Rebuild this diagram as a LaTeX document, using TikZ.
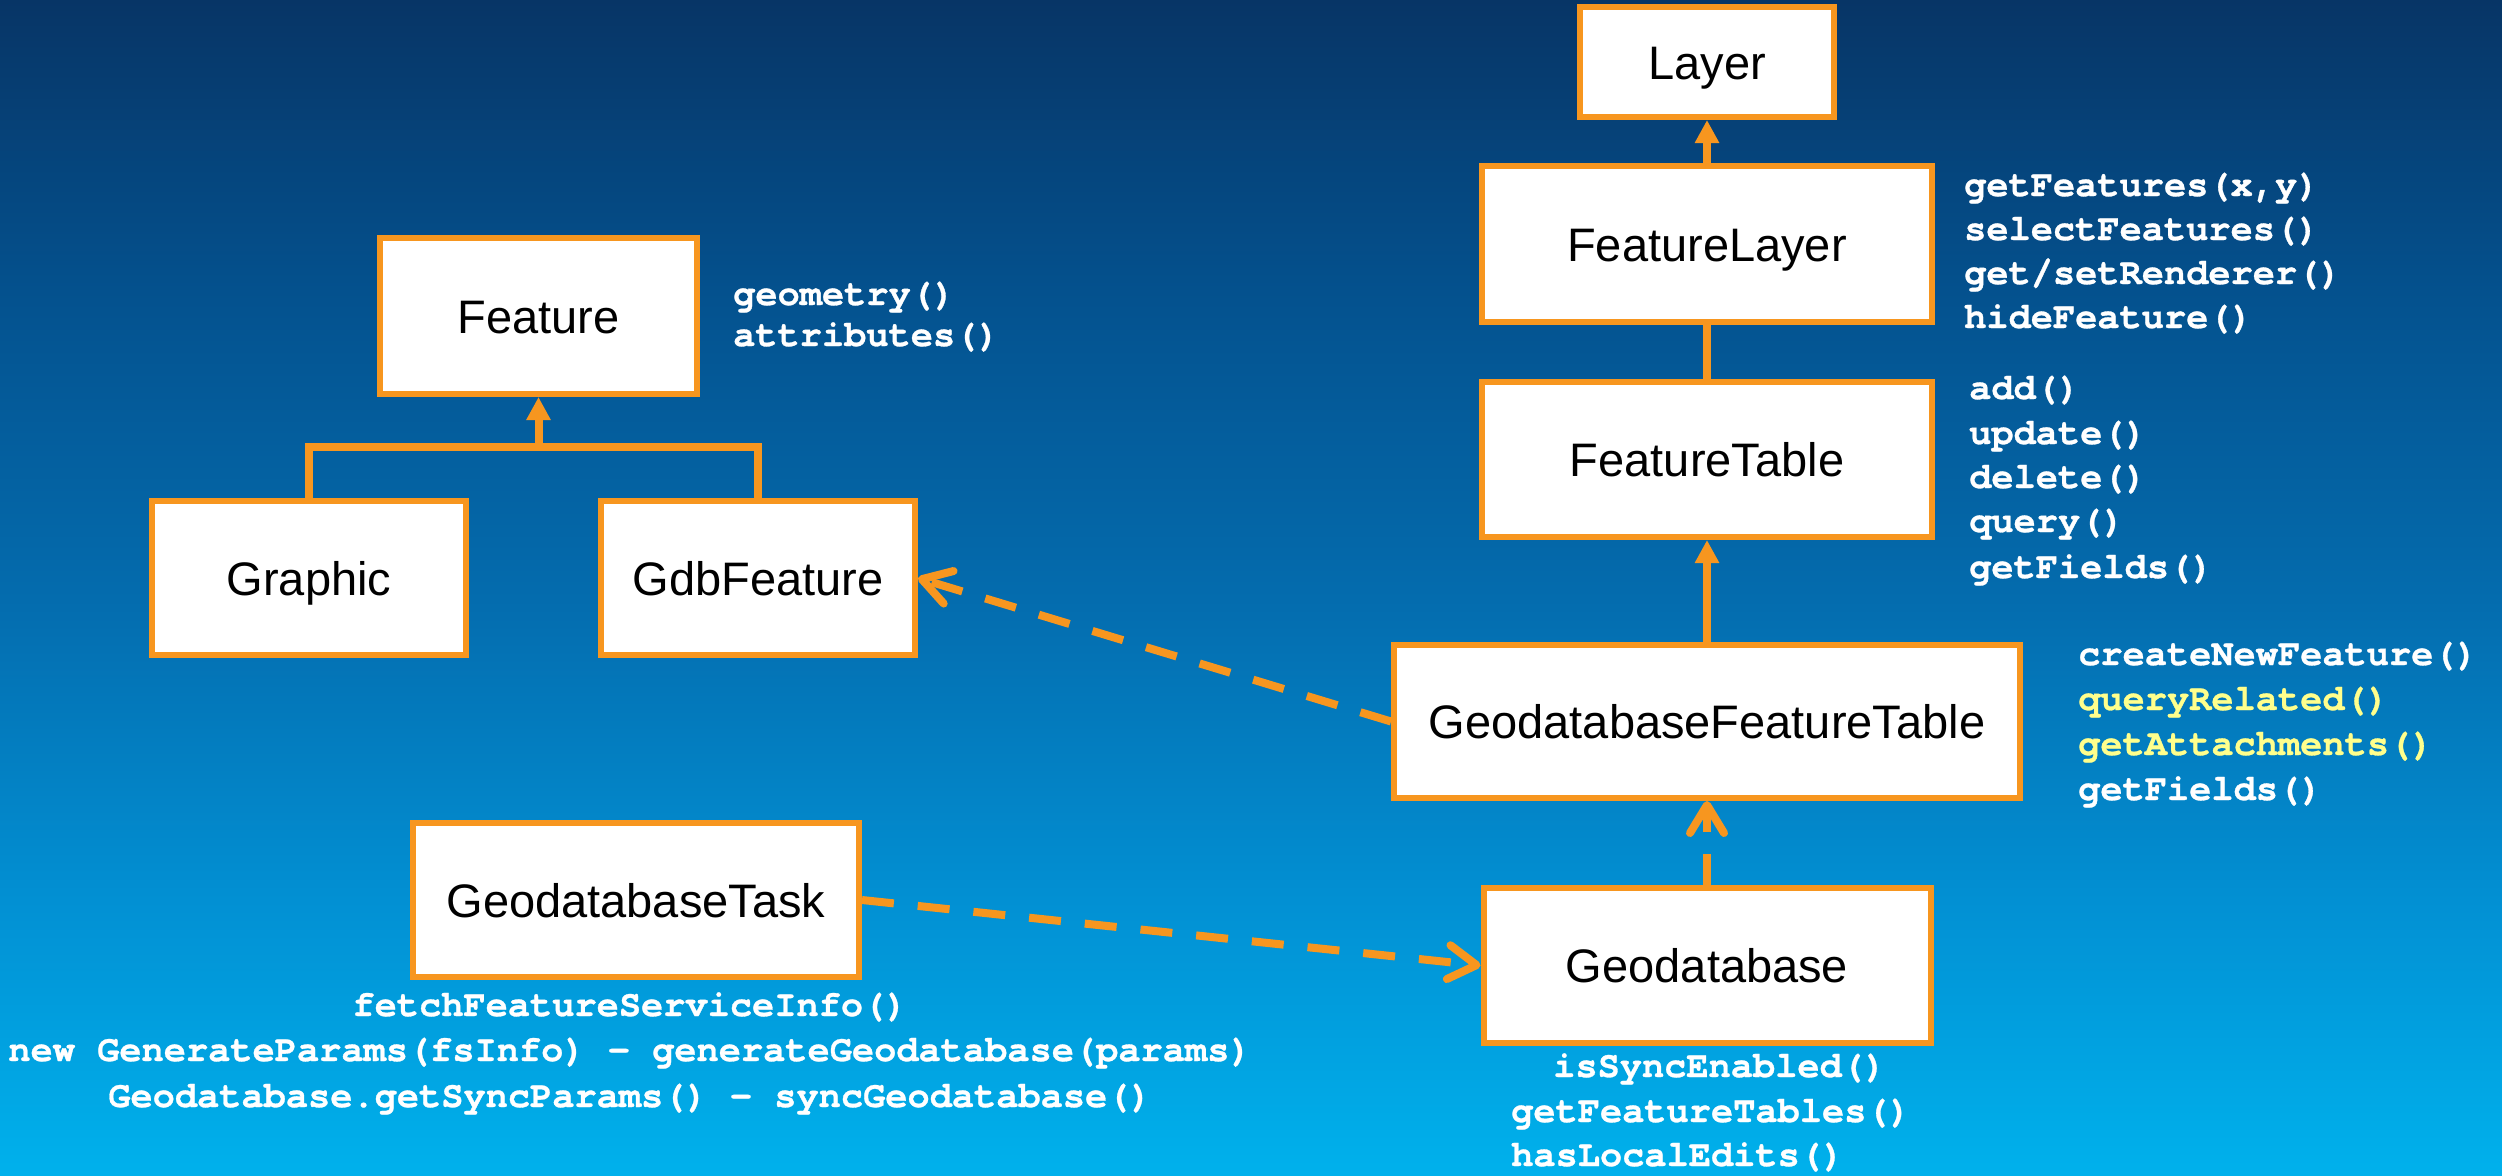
\documentclass[tikz,border=0pt]{standalone}
\usepackage{fontspec}
\setmainfont{Liberation Sans}
\newfontfamily\monofam{TeX Gyre Cursor}[BoldFeatures={FakeBold=0.8}]
\usetikzlibrary{arrows.meta}
\definecolor{esriorange}{HTML}{F7961F}
\definecolor{methyellow}{HTML}{FFFF8C}
\definecolor{bgA}{HTML}{073566}
\definecolor{bgB}{HTML}{04528F}
\definecolor{bgC}{HTML}{046CAE}
\definecolor{bgD}{HTML}{0290D3}
\definecolor{bgE}{HTML}{00B1EC}
\pgfdeclareverticalshading{bgshade}{100bp}{color(0bp)=(bgE); color(25bp)=(bgE); color(36.7bp)=(bgD); color(49.5bp)=(bgC); color(62.2bp)=(bgB); color(75bp)=(bgA); color(100bp)=(bgA)}
\begin{document}
\begin{tikzpicture}[x=1pt,y=-1pt,
  cls/.style={draw=esriorange, line width=6pt, fill=white, inner sep=0pt,
    font=\fontsize{47}{56}\selectfont, text height=34pt, text depth=0pt},
  meth/.style={anchor=base west, text=white, inner sep=0pt,
    font=\monofam\bfseries\fontsize{37}{44}\selectfont},
  methc/.style={meth, anchor=base},
  inh/.style={draw=esriorange, line width=8pt, -{Triangle[length=23pt,width=23pt]}},
  plainline/.style={draw=esriorange, line width=8pt},
  dep/.style={draw=esriorange, line width=8pt, dash pattern=on 32pt off 24pt,
    -{Straight Barb[length=28pt,width=34pt,round]}}]
\useasboundingbox (0,0) rectangle (2502,1175);
\shade[shading=bgshade] (0,0) rectangle (2502,1175);

% class boxes
\node[cls, minimum width=254pt, minimum height=110pt] (layer) at (1707,62) {Layer};
\node[cls, minimum width=450pt, minimum height=156pt] (flayer) at (1707,244) {FeatureLayer};
\node[cls, minimum width=450pt, minimum height=155pt] (ftable) at (1707,459.5) {FeatureTable};
\node[cls, minimum width=626pt, minimum height=153pt] (gdft) at (1707,721.5) {GeodatabaseFeatureTable};
\node[cls, minimum width=447pt, minimum height=155pt] (gdb) at (1707,965.5) {Geodatabase};
\node[cls, minimum width=317pt, minimum height=156pt] (feature) at (538.5,316) {Feature};
\node[cls, minimum width=314pt, minimum height=154pt] (graphic) at (309,578) {Graphic};
\node[cls, minimum width=314pt, minimum height=154pt] (gdbf) at (758,578) {GdbFeature};
\node[cls, minimum width=446pt, minimum height=154pt] (gtask) at (636,900) {GeodatabaseTask};

% connectors
\draw[inh] (flayer) -- (layer);
\draw[plainline] (ftable) -- (flayer);
\draw[inh] (gdft) -- (ftable);
\draw[draw=esriorange, line width=8pt, dash pattern=on 31pt off 22pt,
    -{Straight Barb[length=28pt,width=34pt,round]}] (gdb) -- (gdft);
\coordinate (jn) at (538.5,447);
\draw[plainline] (graphic.north) |- (jn) -| (gdbf.north);
\draw[inh] (jn) -- (feature.south);
\draw[dep] (gdft.west) -- (gdbf.east);
\draw[dep] (gtask.east) -- (gdb.west);

% methods
\node[meth] (fm1) at (733,305) {geometry()};
\node[meth] (fm2) at (733,346) {attributes()};

\node[meth] (lm1) at (1964,196) {getFeatures(x,y)};
\node[meth] (lm2) at (1964,240) {selectFeatures()};
\node[meth] (lm3) at (1964,284) {get/setRenderer()};
\node[meth] (lm4) at (1964,328) {hideFeature()};

\node[meth] (tm1) at (1969,399) {add()};
\node[meth] (tm2) at (1969,444) {update()};
\node[meth] (tm3) at (1969,488) {delete()};
\node[meth] (tm4) at (1969,532) {query()};
\node[meth] (tm5) at (1969,578) {getFields()};

\node[meth] (gm1) at (2078,665) {createNewFeature()};
\node[meth, text=methyellow] (gm2) at (2078,710) {queryRelated()};
\node[meth, text=methyellow] (gm3) at (2078,755) {getAttachments()};
\node[meth] (gm4) at (2078,800) {getFields()};

\node[meth] (dm1) at (1553,1077) {isSyncEnabled()};
\node[meth] (dm2) at (1511,1122) {getFeatureTables()};
\node[meth] (dm3) at (1511,1166) {hasLocalEdits()};

\node[methc] (km1) at (630,1016) {fetchFeatureServiceInfo()};
\node[methc] (km2) at (630,1061) {new GenerateParams(fsInfo) - generateGeodatabase(params)};
\node[methc] (km3) at (630,1107) {Geodatabase.getSyncParams() - syncGeodatabase()};
\end{tikzpicture}
\end{document}
